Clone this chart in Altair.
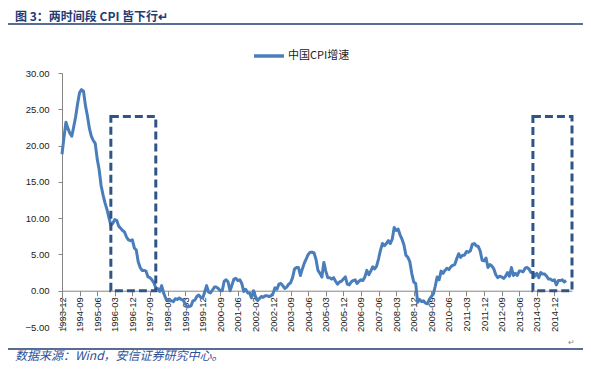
import altair as alt
import pandas as pd

# ---- data -------------------------------------------------------------
start_label = "1993-12"
cpi = [
    18.8,                                                              # 1993-12
    21.1, 23.2, 22.4, 21.7, 21.3, 22.6, 24.0, 25.8, 27.3, 27.7, 27.5, 25.5,   # 1994
    24.1, 22.4, 21.3, 20.7, 20.3, 18.2, 16.7, 14.5, 13.2, 12.1, 11.2, 10.1,   # 1995
    9.0, 9.3, 9.8, 9.7, 8.9, 8.6, 8.3, 8.1, 7.4, 7.0, 6.9, 7.0,               # 1996
    5.9, 5.6, 4.0, 3.2, 2.8, 2.8, 2.7, 1.9, 1.8, 1.5, 1.1, 0.4,               # 1997
    0.3, -0.1, 0.7, -0.3, -1.0, -1.3, -1.4, -1.4, -1.5, -1.1, -1.2, -1.0,     # 1998
    -1.2, -1.3, -1.8, -2.2, -2.2, -2.1, -1.4, -1.3, -0.8, -0.6, -0.9, -1.0,   # 1999
    -0.2, 0.7, -0.2, -0.3, 0.1, 0.5, 0.5, 0.3, 0.0, 0.0, 1.3, 1.5,            # 2000
    1.2, 0.0, 0.8, 1.6, 1.7, 1.4, 1.5, 1.0, -0.1, 0.2, -0.3, -0.3,            # 2001
    -1.0, 0.0, -0.8, -1.3, -1.1, -0.8, -0.9, -0.7, -0.7, -0.8, -0.7, -0.4,    # 2002
    0.4, 0.2, 0.9, 1.0, 0.7, 0.3, 0.5, 0.9, 1.1, 1.8, 3.0, 3.2,               # 2003
    3.2, 2.1, 3.0, 3.8, 4.4, 5.0, 5.3, 5.3, 5.2, 4.3, 2.8, 2.4,               # 2004
    1.9, 3.9, 2.7, 1.8, 1.8, 1.6, 1.8, 1.3, 0.9, 1.2, 1.3, 1.6,               # 2005
    1.9, 0.9, 0.8, 1.2, 1.4, 1.5, 1.0, 1.3, 1.5, 1.4, 1.9, 2.8,               # 2006
    2.2, 2.7, 3.3, 3.0, 3.4, 4.4, 5.6, 6.5, 6.2, 6.5, 6.9, 6.5,               # 2007
    7.1, 8.7, 8.3, 8.5, 7.7, 7.1, 6.3, 4.9, 4.6, 4.0, 2.4, 1.2,               # 2008
    1.0, -1.6, -1.2, -1.5, -1.4, -1.7, -1.8, -1.2, -0.8, -0.5, 0.6, 1.9,      # 2009
    1.5, 2.7, 2.4, 2.8, 3.1, 2.9, 3.3, 3.5, 3.6, 4.4, 5.1, 4.6,               # 2010
    4.9, 4.9, 5.4, 5.3, 5.5, 6.4, 6.5, 6.2, 6.1, 5.5, 4.2, 4.1,               # 2011
    4.5, 3.2, 3.6, 3.4, 3.0, 2.2, 1.8, 2.0, 1.9, 1.7, 2.0, 2.5,               # 2012
    2.0, 3.2, 2.1, 2.4, 2.1, 2.7, 2.7, 2.6, 3.1, 3.2, 3.0, 2.5,               # 2013
    2.5, 2.0, 2.4, 1.8, 2.5, 2.3, 2.3, 2.0, 1.6, 1.6, 1.4, 1.5,               # 2014
    0.8, 1.4, 1.4, 1.5, 1.2, 1.4,                                             # 2015
]
tick_labels = [
    "1993-12", "1994-09", "1995-06", "1996-03", "1996-12", "1997-09",
    "1998-06", "1999-03", "1999-12", "2000-09", "2001-06", "2002-03",
    "2002-12", "2003-09", "2004-06", "2005-03", "2005-12", "2006-09",
    "2007-06", "2008-03", "2008-12", "2009-09", "2010-06", "2011-03",
    "2011-12", "2012-09", "2013-06", "2014-03", "2014-12",
]
axis_end = "2015-09"
box_start = ["1996-01", "2014-01"]
box_end = ["1997-12", "2015-09"]
box_top = [24, 24]
y_ticks = [-5, 0, 5, 10, 15, 20, 25, 30]
series_name = "中国CPI增速"
title_text = "图 3：两时间段 CPI 皆下行↵"
source_text = "数据来源：Wind，安信证券研究中心。"


def idx(label):
    y, m = label.split("-")
    sy, sm = start_label.split("-")
    return (int(y) - int(sy)) * 12 + int(m) - int(sm)


def lab(i):
    sy, sm = start_label.split("-")
    t = int(sy) * 12 + int(sm) - 1 + i
    return f"{t // 12}-{t % 12 + 1:02d}"


df = pd.DataFrame({
    "i": list(range(len(cpi))),
    "month": [lab(i) for i in range(len(cpi))],
    "cpi": cpi,
    "series": series_name,
})
boxes = pd.DataFrame({
    "i": [idx(s) for s in box_start],
    "x2": [idx(e) for e in box_end],
    "cpi": [0, 0],
    "y2": box_top,
})

W, H = 510, 254
YMIN, YMAX = -5, 30
x_offset = -H * (0 - YMIN) / (YMAX - YMIN)

label_expr = (
    "toString(1993 + floor((datum.value + 11) / 12)) + '-' + "
    "(((datum.value + 11) % 12 + 1) < 10 ? '0' : '') + "
    "toString((datum.value + 11) % 12 + 1)"
)

xscale = alt.Scale(domain=[0, idx(axis_end)], nice=False, zero=False)
yscale = alt.Scale(domain=[YMIN, YMAX], nice=False)

x_axis = alt.Axis(values=[idx(t) for t in tick_labels], labelExpr=label_expr,
                  labelAngle=270, labelFontSize=9.5, labelFont="Liberation Sans",
                  labelColor="#222222", domainColor="#868686", tickColor="#868686",
                  tickSize=5, labelPadding=1, offset=x_offset, grid=False,
                  labelOverlap=False, labelFlush=False, labelBound=False)
y_axis = alt.Axis(values=y_ticks, format=".2f", labelFontSize=9.5,
                  labelFont="Liberation Sans", labelColor="#222222",
                  domainColor="#868686", tickColor="#868686", tickSize=4,
                  labelPadding=9, grid=False, labelOverlap=False,
                  labelFlush=False, labelBound=False)

line = alt.Chart(df).mark_line(strokeWidth=3, strokeJoin="round").encode(
    x=alt.X("i:Q", scale=xscale, title=None, axis=x_axis),
    y=alt.Y("cpi:Q", scale=yscale, title=None, axis=y_axis),
    color=alt.Color("series:N", scale=alt.Scale(range=["#4a7ebb"]),
                    legend=alt.Legend(title=None, orient="none", legendX=190, legendY=-34,
                                      symbolType="stroke", symbolSize=900,
                                      symbolStrokeWidth=3.5, labelFontSize=11,
                                      labelFont="Noto Sans CJK SC", labelColor="#222222",
                                      labelOffset=2, padding=0)),
)

box = alt.Chart(boxes).mark_rect(fill="transparent", stroke="#2f5587", strokeWidth=3,
                                 strokeDash=[8, 4]).encode(
    x=alt.X("i:Q", scale=xscale, title=None, axis=x_axis), x2="x2:Q",
    y=alt.Y("cpi:Q", scale=yscale, title=None, axis=y_axis), y2="y2:Q",
)

one = pd.DataFrame({"t": [0]})
title = alt.Chart(one).mark_text(text=title_text, align="left", baseline="middle",
                                 font="Noto Sans CJK SC", fontSize=12, fontWeight="bold",
                                 color="#1f3c74").encode(x=alt.value(-47), y=alt.value(-56))
title_rule = alt.Chart(one).mark_rule(color="#1f3c74", strokeWidth=1.5).encode(
    x=alt.value(-54), x2=alt.value(529), y=alt.value(-49))
foot_rule = alt.Chart(one).mark_rule(color="#1f3c74", strokeWidth=1.5).encode(
    x=alt.value(-54), x2=alt.value(529), y=alt.value(276))
footer = alt.Chart(one).mark_text(text=source_text, align="left", baseline="middle",
                                  font="Noto Sans CJK SC", fontSize=12, fontStyle="italic",
                                  color="#2e4f96").encode(x=alt.value(-47), y=alt.value(283))
ret = alt.Chart(one).mark_text(text="↵", align="left", baseline="middle", fontSize=8,
                               color="#888888").encode(x=alt.value(506), y=alt.value(270))

chart = alt.layer(line, box, title, title_rule, foot_rule, footer, ret).properties(
    width=W, height=H,
    autosize=alt.AutoSizeParams(type="none"),
    padding={"left": 54, "top": 65, "right": 11, "bottom": 39},
    background="white",
).configure_view(stroke=None)

chart.save("out.html", embed_options={"renderer": "svg", "actions": False})
